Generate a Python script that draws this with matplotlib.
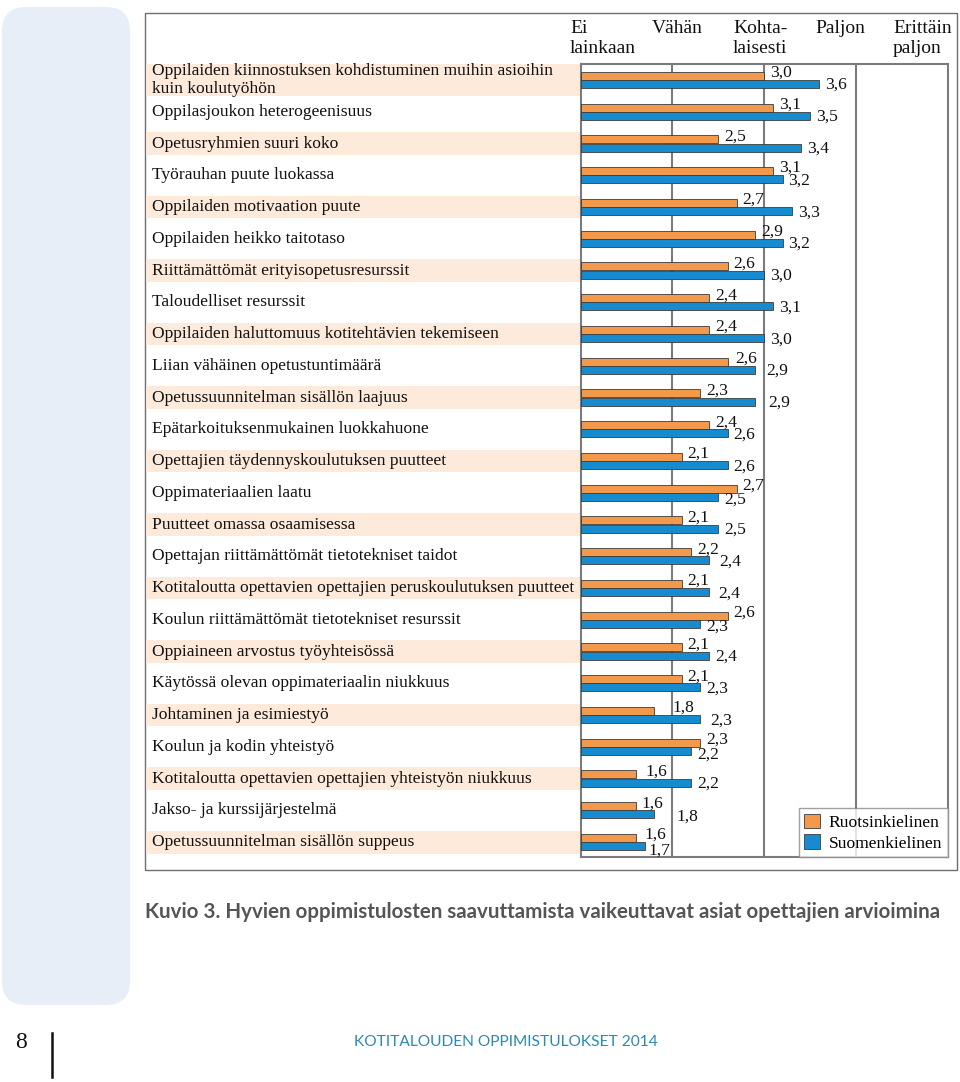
import numpy as np
import matplotlib.pyplot as plt
from matplotlib.patches import Rectangle, FancyBboxPatch
from matplotlib.transforms import blended_transform_factory

categories = [
    "Oppilaiden kiinnostuksen kohdistuminen muihin asioihin\nkuin koulutyöhön",
    "Oppilasjoukon heterogeenisuus",
    "Opetusryhmien suuri koko",
    "Työrauhan puute luokassa",
    "Oppilaiden motivaation puute",
    "Oppilaiden heikko taitotaso",
    "Riittämättömät erityisopetusresurssit",
    "Taloudelliset resurssit",
    "Oppilaiden haluttomuus kotitehtävien tekemiseen",
    "Liian vähäinen opetustuntimäärä",
    "Opetussuunnitelman sisällön laajuus",
    "Epätarkoituksenmukainen luokkahuone",
    "Opettajien täydennyskoulutuksen puutteet",
    "Oppimateriaalien laatu",
    "Puutteet omassa osaamisessa",
    "Opettajan riittämättömät tietotekniset taidot",
    "Kotitaloutta opettavien opettajien peruskoulutuksen puutteet",
    "Koulun riittämättömät tietotekniset resurssit",
    "Oppiaineen arvostus työyhteisössä",
    "Käytössä olevan oppimateriaalin niukkuus",
    "Johtaminen ja esimiestyö",
    "Koulun ja kodin yhteistyö",
    "Kotitaloutta opettavien opettajien yhteistyön niukkuus",
    "Jakso- ja kurssijärjestelmä",
    "Opetussuunnitelman sisällön suppeus",
]
ruotsinkielinen = [3.0, 3.1, 2.5, 3.1, 2.7, 2.9, 2.6, 2.4, 2.4, 2.6, 2.3, 2.4, 2.1,
                   2.7, 2.1, 2.2, 2.1, 2.6, 2.1, 2.1, 1.8, 2.3, 1.6, 1.6, 1.6]
suomenkielinen = [3.6, 3.5, 3.4, 3.2, 3.3, 3.2, 3.0, 3.1, 3.0, 2.9, 2.9, 2.6, 2.6,
                  2.5, 2.5, 2.4, 2.4, 2.3, 2.4, 2.3, 2.3, 2.2, 2.2, 1.8, 1.7]
scale_labels = ["Ei\nlainkaan", "Vähän", "Kohta-\nlaisesti", "Paljon", "Erittäin\npaljon"]
series_names = ["Ruotsinkielinen", "Suomenkielinen"]

ORANGE = "#f2994c"
BLUE = "#178bd0"
EDGE = "#3c3c3c"
GRID = "#7b7b7b"
BAND = "#fdeadb"
SERIF = ["Liberation Serif", "DejaVu Serif"]
FS = 12.6

# extra label shifts in pixels (dx, dy) where the original had them moved
nudge_r = {20: (12, 0), 22: (4, 0), 24: (3, 0), 9: (2, 0)}
nudge_s = {9: (5, 0), 10: (7, 0), 15: (4, 0), 16: (3, 0), 20: (4, 0),
           23: (16, 1), 13: (0, 2), 21: (0, 3), 24: (-2, 3), 17: (0, 2)}

W, H = 960, 1082
fig = plt.figure(figsize=(W / 100, H / 100), dpi=100)

# background axes in pixel units for page decorations
bg = fig.add_axes([0, 0, 1, 1], zorder=0)
bg.set_xlim(0, W)
bg.set_ylim(H, 0)
bg.axis("off")
bg.add_patch(FancyBboxPatch((2, 7), 128, 998, boxstyle="round,pad=0,rounding_size=24",
                            fc="#e7eef8", ec="none"))
bg.add_patch(Rectangle((144.5, 13), 812, 857, fill=False, ec="#6e6e6e", lw=1.0))

# header for the scale
head_x = [570, 652, 733, 815, 893]
for x, lab in zip(head_x, scale_labels):
    bg.text(x, 20, lab, ha="left", va="top", fontsize=14, family=SERIF,
            linespacing=1.22, color="#111111")

bg.text(145, 912, "Kuvio 3. Hyvien oppimistulosten saavuttamista vaikeuttavat asiat opettajien arvioimina",
        ha="left", va="center", fontsize=14.8, fontweight="bold", family="Lato", color="#555555")
bg.text(21, 1043, "8", ha="center", va="center", fontsize=17, family=SERIF, color="#111111")
bg.plot([52, 52], [1033, 1077], color="#111111", lw=1.8)
bg.text(506, 1042, "KOTITALOUDEN OPPIMISTULOKSET 2014", ha="center", va="center",
        fontsize=11.2, family="Lato", color="#2a8ab3")

# chart axes
x0, x1 = 580.7, 947.7
y0, y1 = 64, 857
ax = fig.add_axes([x0 / W, 1 - y1 / H, (x1 - x0) / W, (y1 - y0) / H], zorder=1)
n = len(categories)
y = np.arange(n)
h = 0.255
off = 0.13

ax.barh(y - off, np.array(ruotsinkielinen) - 1, left=1, height=h, color=ORANGE,
        edgecolor=EDGE, linewidth=0.6, zorder=3, label=series_names[0])
ax.barh(y + off, np.array(suomenkielinen) - 1, left=1, height=h, color=BLUE,
        edgecolor=EDGE, linewidth=0.6, zorder=3, label=series_names[1])

ax.set_xlim(1, 5)
ax.set_ylim(n - 0.53, -0.504)
ax.set_xticks([])
ax.set_yticks([])
for x in [2, 3, 4]:
    ax.axvline(x, color=GRID, lw=1.5, zorder=1)
for s in ax.spines.values():
    s.set_color(GRID)
    s.set_linewidth(1.5)

# value labels
def fmt(v):
    return f"{v:.1f}".replace(".", ",")

for i in range(n):
    dx, dy = nudge_r.get(i, (0, 0))
    ax.annotate(fmt(ruotsinkielinen[i]), (ruotsinkielinen[i], i - off),
                xytext=(6 + dx, 3 - dy), textcoords="offset pixels",
                ha="left", va="center", fontsize=FS, family=SERIF, color="#111111", zorder=4)
    dx, dy = nudge_s.get(i, (0, 0))
    ax.annotate(fmt(suomenkielinen[i]), (suomenkielinen[i], i + off),
                xytext=(6 + dx, -1 - dy), textcoords="offset pixels",
                ha="left", va="center", fontsize=FS, family=SERIF, color="#111111", zorder=4)

# category labels with alternating bands
tr = blended_transform_factory(ax.transAxes, ax.transData)
band_left = (146 - x0) / (x1 - x0)
for i, cat in enumerate(categories):
    if i % 2 == 0:
        bh = 1.0 if "\n" in cat else 0.72
        ax.add_patch(Rectangle((band_left, i - bh / 2), -band_left, bh, transform=tr,
                               fc=BAND, ec="none", clip_on=False, zorder=0))
    ax.text(band_left + 0.016, i, cat, transform=tr, ha="left", va="center",
            fontsize=FS, family=SERIF, color="#111111", linespacing=1.2, clip_on=False)

leg = ax.legend(loc="lower right", bbox_to_anchor=(1, 0), borderaxespad=0,
                prop={"family": SERIF, "size": FS}, frameon=True, fancybox=False,
                edgecolor="#8a8a8a", handlelength=0.9, handleheight=0.9,
                handletextpad=0.5, borderpad=0.3, labelspacing=0.2)
leg.get_frame().set_linewidth(1.0)
leg.set_zorder(5)

fig.savefig("out.png", dpi=100)
